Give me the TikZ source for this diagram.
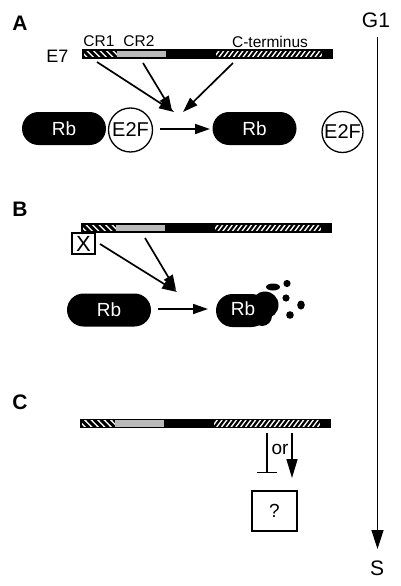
\documentclass[tikz,border=0pt]{standalone}
\usepackage{fontspec}
\setmainfont{Liberation Sans}
\usetikzlibrary{arrows.meta}
\tikzset{
  arr/.style={-{Triangle[length=15pt,width=10pt]}, line width=1.7pt},
  bigarr/.style={-{Triangle[length=19pt,width=12pt]}, line width=1.5pt},
  pill/.style={fill=black, text=white, minimum width=84pt, minimum height=33pt, rounded corners=16.5pt, inner sep=0pt, font=\fontsize{19}{19}\selectfont},
  efcirc/.style={circle, draw, line width=1.3pt, minimum size=#1, inner sep=0pt, font=\fontsize{20}{20}\selectfont},
  lbl/.style={font=\fontsize{15.5}{16}\selectfont, inner sep=0pt},
  panel/.style={font=\fontsize{21}{21}\selectfont\bfseries, inner sep=0pt},
  phase/.style={font=\fontsize{21}{21}\selectfont, inner sep=0pt},
  sqbox/.style={draw, line width=1.2pt, inner sep=0pt, minimum width=#1},
}
\newcommand\ebar[2]{%
 \begin{scope}[shift={(#1,#2)}]
  \fill[white] (0,0) rectangle (34,8);
  \begin{scope}\clip (0,0) rectangle (34,8);
    \foreach \i in {-2,...,7} \draw[line width=2.9pt] (\i*6.5,0) -- (\i*6.5+8,8);
  \end{scope}
  \fill[black!27] (34,0) rectangle (83,8);
  \fill[black] (83,0) rectangle (133,8);
  \fill[white] (133,0) rectangle (239,8);
  \begin{scope}\clip (133,1) rectangle (239,7);
    \foreach \i in {-2,...,24} \draw[line width=2.2pt] (133+\i*4.8,8) -- (133+\i*4.8+6,0);
  \end{scope}
  \fill[black] (239,0) rectangle (249,8);
  \draw[line width=1.4pt] (0,0) rectangle (249,8);
 \end{scope}}
\begin{document}
\begin{tikzpicture}[x=1pt,y=-1pt]
\useasboundingbox (0,0) rectangle (400,586);

% phase axis
\node[phase] (g1) at (376,20) {G1};
\node[phase] (s) at (377,568) {S};
\coordinate (g1b) at (377.5,37);
\coordinate (st) at (377.5,549);
\draw[bigarr] (g1b) -- (st);

% ---------- Panel A ----------
\node[panel] (la) at (20,23) {A};
\ebar{83}{50}
\node[lbl, font=\fontsize{18}{18}\selectfont] (e7) at (57.5,56) {E7};
\node[lbl] (cr1) at (99,41.5) {CR1};
\node[lbl] (cr2) at (139,41.5) {CR2};
\node[lbl] (ct) at (270,41.5) {C-terminus};
\coordinate (a1s) at (97,62);
\coordinate (a2s) at (143,63);
\coordinate (a3s) at (233,63);
\coordinate (a1e) at (174,112);
\coordinate (a2e) at (172,111);
\coordinate (a3e) at (183,112);
\draw[arr] (a1s) -- (a1e);
\draw[arr] (a2s) -- (a2e);
\draw[arr] (a3s) -- (a3e);
\node[pill] (rba) at (64,128.5) {Rb};
\node[efcirc=44pt] (efa) at (130.5,130) {E2F};
\node[pill] (rbb) at (254.5,128.5) {Rb};
\node[efcirc=41pt] (efb) at (342.5,132) {E2F};
\coordinate (ha) at (160,129);
\coordinate (hb) at (210,129);
\draw[arr] (ha) -- (hb);

% ---------- Panel B ----------
\node[panel] (lb) at (20,209) {B};
\ebar{82}{224}
\node[sqbox=23pt, minimum height=21pt, fill=white, font=\fontsize{22}{22}\selectfont] (x) at (83.5,243.5) {X};
\coordinate (b1s) at (100,244);
\coordinate (b1e) at (177,292);
\coordinate (b2s) at (145,238);
\coordinate (b2e) at (176,290);
\draw[arr] (b1s) -- (b1e);
\draw[arr] (b2s) -- (b2e);
\node[pill] (rbc) at (109,310) {Rb};
\coordinate (hc) at (158,309);
\coordinate (hd) at (208,309);
\draw[arr] (hc) -- (hd);
% degraded Rb
\fill[black, rounded corners=16.5pt] (216,294) rectangle (268,327);
\fill[black] (265,305) circle (13.5);
\fill[black] (262,316) circle (10);
\fill[black] (273,287) ellipse (7 and 3.5);
\fill[black] (287,283.5) circle (3.6);
\fill[black] (286,298) circle (3.6);
\fill[black] (301,305) ellipse (3.8 and 4.5);
\fill[black] (290,315) circle (3.8);
\node[text=white, inner sep=0pt, font=\fontsize{19}{19}\selectfont] (rbd) at (243,309) {Rb};

% ---------- Panel C ----------
\node[panel] (lc) at (20,402) {C};
\ebar{81}{419.5}
\coordinate (is) at (267,433);
\coordinate (ie) at (267,473);
\draw[-{Bar[width=20pt,line width=1.4pt]}, line width=1.4pt] (is) -- (ie);
\node[inner sep=0pt, font=\fontsize{19}{19}\selectfont] (or) at (280,449) {or};
\coordinate (ds) at (292,433);
\coordinate (de) at (292,478);
\draw[-{Triangle[length=19pt,width=11pt]}, line width=1.5pt] (ds) -- (de);
\node[sqbox=45pt, minimum height=40pt, font=\fontsize{19}{19}\selectfont] (q) at (274.5,511) {?};
\end{tikzpicture}
\end{document}
